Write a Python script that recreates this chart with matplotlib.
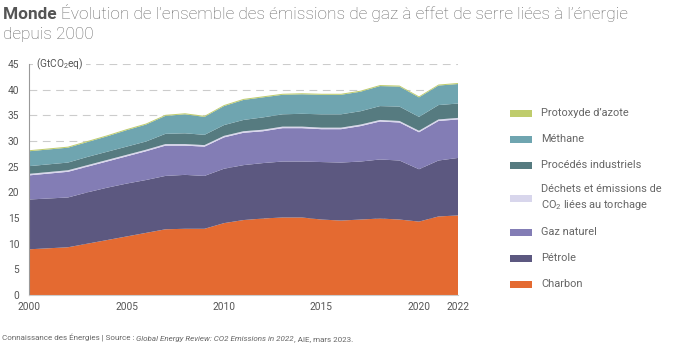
import numpy as np
import matplotlib
matplotlib.use("Agg")
import matplotlib.pyplot as plt
from matplotlib.patches import Rectangle

plt.rcParams['font.family'] = ['Roboto', 'DejaVu Sans']
plt.rcParams['mathtext.fontset'] = 'custom'
plt.rcParams['mathtext.rm'] = 'Roboto'

# émissions par source (GtCO2eq)
years = [2000, 2002, 2003, 2004, 2005, 2006, 2007, 2008, 2009, 2010, 2011,
         2012, 2013, 2014, 2015, 2016, 2017, 2018, 2019, 2020, 2021, 2022]
charbon = [8.9, 9.3, 10.0, 10.7, 11.4, 12.1, 12.8, 12.9, 12.9, 14.0, 14.6,
           14.9, 15.1, 15.1, 14.7, 14.5, 14.7, 14.9, 14.7, 14.3, 15.3, 15.5]
petrole = [9.7, 9.7, 10.0, 10.2, 10.3, 10.3, 10.4, 10.5, 10.3, 10.6, 10.7,
           10.8, 10.9, 10.9, 11.2, 11.3, 11.3, 11.5, 11.5, 10.2, 10.9, 11.2]
gaz = [4.7, 5.0, 5.0, 5.1, 5.3, 5.6, 5.9, 5.7, 5.7, 6.1, 6.3,
       6.2, 6.5, 6.5, 6.4, 6.5, 6.9, 7.4, 7.4, 7.2, 7.7, 7.5]
dechets = [0.3] * 22
procedes = [1.5, 1.5, 1.6, 1.6, 1.6, 1.6, 2.0, 2.1, 2.0, 2.1, 2.2,
            2.4, 2.4, 2.5, 2.6, 2.6, 2.6, 2.7, 2.8, 2.7, 2.8, 2.8]
methane = [2.9, 2.9, 2.9, 3.0, 3.2, 3.3, 3.5, 3.7, 3.5, 3.7, 3.9,
           3.9, 3.8, 3.8, 3.8, 3.8, 3.8, 3.9, 3.9, 3.8, 3.8, 3.8]
protoxyde = [0.2] * 22

labels = ["Charbon", "Pétrole", "Gaz naturel",
          "Déchets et émissions de\nCO$_\\mathregular{2}$ liées au torchage",
          "Procédés industriels", "Méthane", "Protoxyde d’azote"]
colors = ["#E46A31", "#5C5880", "#837DB5", "#D8D6EC", "#567B80", "#6FA5B0", "#BFCC6C"]

grey = "#666666"

fig = plt.figure(figsize=(7, 3.45), dpi=100)
ax = fig.add_axes([29 / 700, 50 / 345, 429 / 700, 231 / 345])

ax.stackplot(years, charbon, petrole, gaz, dechets, procedes, methane, protoxyde,
             colors=colors, linewidth=0, zorder=2)

ax.set_xlim(2000, 2022)
ax.set_ylim(0, 45)
ax.set_yticks(range(0, 46, 5))
ax.set_xticks([2000, 2005, 2010, 2015, 2020, 2022])
ax.tick_params(length=0, labelsize=7.3, colors="#555555")
ax.tick_params(axis='y', pad=7)
ax.tick_params(axis='x', pad=5)
ax.grid(axis='y', color="#cccccc", linestyle=(0, (7, 5)), linewidth=0.8, zorder=0)
ax.set_axisbelow(True)
for side in ["top", "right"]:
    ax.spines[side].set_visible(False)
ax.spines["left"].set_color("#999999")
ax.spines["left"].set_linewidth(0.8)
ax.spines["bottom"].set_color("#cccccc")
ax.spines["bottom"].set_linewidth(0.8)

ax.text(2000.35, 45, "(GtCO$_\\mathregular{2}$eq)", fontsize=7.3, color="#555555",
        va="center", ha="left", zorder=3,
        bbox=dict(facecolor="white", edgecolor="none", pad=2))

# légende à droite
leg_y = [284, 258, 232, 198, 165, 139, 113]
for lab, col, yy in zip(labels, colors, leg_y):
    fig.add_artist(Rectangle((510 / 700, 1 - (yy + 3.5) / 345), 22 / 700, 7 / 345,
                             transform=fig.transFigure, facecolor=col, edgecolor="none"))
    fig.text(541 / 700, 1 - yy / 345, lab, fontsize=7.9, color=grey, va="center",
             ha="left", linespacing=1.45)

# titre
fig.canvas.draw()
renderer = fig.canvas.get_renderer()


def put_pieces(x, y, pieces, **kw):
    for txt, extra in pieces:
        t = fig.text(x, y, txt, **kw, **extra)
        bb = t.get_window_extent(renderer)
        x += bb.width / fig.bbox.width


put_pieces(3 / 700, 1 - 19 / 345,
           [("Monde ", dict(fontweight="bold", color="#555555")),
            ("Évolution de l’ensemble des émissions de gaz à effet de serre liées à l’énergie",
             dict(fontweight="light", color=grey))],
           fontsize=12.4, va="baseline")
fig.text(3 / 700, 1 - 39 / 345, "depuis 2000", fontsize=12.4, fontweight="light",
         color=grey, va="baseline")

put_pieces(2 / 700, 1 - 341 / 345,
           [("Connaissance des Énergies | Source : ", dict()),
            ("Global Energy Review: CO2 Emissions in 2022", dict(style="italic")),
            (", AIE, mars 2023.", dict())],
           fontsize=5.75, color="#666666", va="baseline")

fig.savefig("out.png", dpi=100)
